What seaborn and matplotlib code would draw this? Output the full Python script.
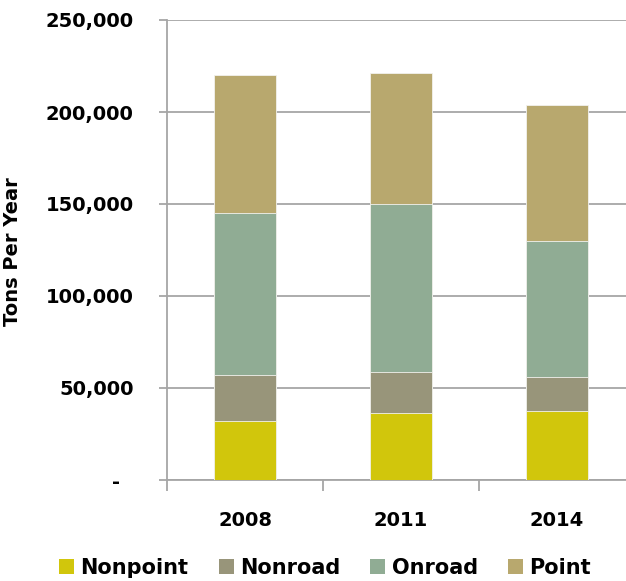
import matplotlib
matplotlib.use("Agg")
import matplotlib.pyplot as plt
from matplotlib.patches import Patch
from matplotlib.ticker import FuncFormatter, FixedLocator
import numpy as np
import pandas as pd
import seaborn as sns

years = ["2008", "2011", "2014"]
sectors = ["Nonpoint", "Nonroad", "Onroad", "Point"]
nonpoint = [32000, 36600, 37700]
nonroad = [24900, 21900, 18500]
onroad = [88400, 91500, 73700]
point = [74800, 71200, 73700]
colors = ["#D1C60C", "#98957A", "#90AC94", "#B8A86E"]
y_ticks = [0, 50000, 100000, 150000, 200000, 250000]

sns.set_theme(style="white")
plt.rcParams["font.family"] = ["DejaVu Sans"]
plt.rcParams["text.color"] = "black"
plt.rcParams["axes.labelcolor"] = "black"

df = pd.DataFrame({"Year": years, "Nonpoint": nonpoint, "Nonroad": nonroad,
                   "Onroad": onroad, "Point": point})
cum = df[sectors].cumsum(axis=1)

fig = plt.figure(figsize=(6.26, 5.81), dpi=100)
ax = fig.add_axes([167 / 626, 101 / 581, 468 / 626, 460 / 581])

# stacked bars: draw running totals from the top layer down
for sector, color in reversed(list(zip(sectors, colors))):
    sns.barplot(x=df["Year"], y=cum[sector], color=color, width=0.4,
                edgecolor="#F2F2EE", linewidth=0.6, saturation=1, ax=ax, zorder=3)

ax.set_xlim(-0.5, 2.5)
ax.set_ylim(0, 250000)
ax.set_yticks(y_ticks)
ax.yaxis.set_major_formatter(FuncFormatter(lambda v, p: "-  " if v == 0 else f"{int(v):,}"))
ax.grid(axis="y", color="#A6A6A6", linewidth=1.3, zorder=0)
ax.set_axisbelow(True)

for s in ["top", "right"]:
    ax.spines[s].set_visible(False)
for s in ["left", "bottom"]:
    ax.spines[s].set_color("#A6A6A6")
    ax.spines[s].set_linewidth(1.3)

ax.tick_params(axis="y", which="major", length=6, width=1.3, color="#A6A6A6",
               labelsize=14, pad=18, left=True, labelcolor="black")
ax.tick_params(axis="x", which="major", length=0, labelsize=14, pad=22, labelcolor="black")
ax.xaxis.set_minor_locator(FixedLocator([-0.5, 0.5, 1.5, 2.5]))
ax.tick_params(axis="x", which="minor", length=8, width=1.3, color="#A6A6A6", bottom=True)
for lab in ax.get_xticklabels() + ax.get_yticklabels():
    lab.set_fontweight("bold")

ax.set_xlabel("")
ax.set_ylabel("Tons Per Year", fontsize=14, fontweight="bold", color="black")
ax.yaxis.set_label_coords((22 - 167) / 468, (581 - 252 - 101) / 460)

handles = [Patch(facecolor=c, edgecolor="none", label=s) for s, c in zip(sectors, colors)]
leg = fig.legend(handles=handles, loc="center", bbox_to_anchor=(325 / 626, 1 - 568 / 581),
                 ncol=4, frameon=False, handlelength=0.72, handleheight=0.72,
                 handletextpad=0.3, columnspacing=1.45, borderaxespad=0, borderpad=0,
                 prop={"size": 15, "weight": "bold"})
for t in leg.get_texts():
    t.set_color("black")

fig.savefig("out.png", dpi=100)
